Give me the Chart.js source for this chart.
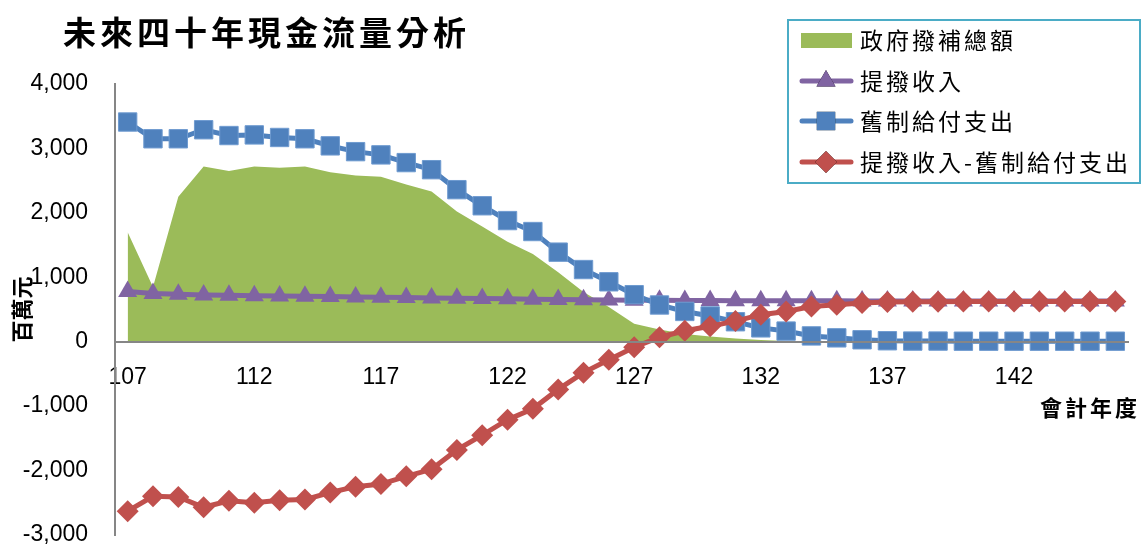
<!DOCTYPE html>
<html><head><meta charset="utf-8">
<script src="https://cdn.jsdelivr.net/npm/chart.js@4"></script>
<style>html,body{margin:0;padding:0;background:#fff}#wrap{width:1148px;height:549px}</style>
</head><body><div id="wrap"><canvas id="c" width="1148" height="549"></canvas></div>
<script>
const chartTitle = '未來四十年現金流量分析';
const xAxisTitle = '會計年度';
const yAxisTitle = '百萬元';
const years = [107,108,109,110,111,112,113,114,115,116,117,118,119,120,121,122,123,124,125,126,127,128,129,130,131,132,133,134,135,136,137,138,139,140,141,142,143,144,145,146];
const seriesNames = ['政府撥補總額','提撥收入','舊制給付支出','提撥收入-舊制給付支出'];
const subsidy = [1700,850,2250,2720,2650,2720,2700,2720,2630,2580,2560,2440,2330,2020,1790,1550,1360,1080,770,540,280,190,120,80,50,25,10,5,0,0,0,0,0,0,0,0,0,0,0,0];
const income = [780,750,735,725,720,715,710,705,700,695,690,685,680,675,670,665,660,655,650,648,645,643,640,638,636,635,635,634,634,633,633,633,632,632,632,632,631,631,631,631];
const payment = [3410,3150,3150,3290,3200,3210,3170,3150,3040,2950,2900,2780,2670,2360,2110,1880,1710,1390,1120,930,730,570,470,400,310,215,165,90,60,30,15,10,10,8,8,8,8,8,8,8];
const netFlow = [-2630,-2400,-2410,-2570,-2470,-2500,-2460,-2450,-2340,-2250,-2210,-2090,-1980,-1680,-1450,-1210,-1040,-740,-480,-280,-85,70,170,240,320,420,470,545,575,600,615,620,622,624,624,624,624,624,624,624];
const yTicks = [-3000,-2000,-1000,0,1000,2000,3000,4000];

const GREEN='#9BBB59', PURPLE='#8064A2', BLUE='#4F81BD', RED='#C0504D';

const extras = {
  id:'extras',
  afterDraw(chart){
    const ctx = chart.ctx;
    ctx.save();
    ctx.fillStyle='#000';
    ctx.textBaseline='middle';
    ctx.textAlign='left';
    ctx.font="bold 33px 'Noto Sans CJK TC'";
    ctx.letterSpacing='4px';
    ctx.fillText(chartTitle, 63, 32);
    ctx.font="bold 22px 'Noto Sans CJK TC'";
    ctx.letterSpacing='3px';
    ctx.fillText(xAxisTitle, 1040, 408);
    ctx.letterSpacing='0px';
    ctx.fillStyle='#fff';
    ctx.fillRect(788,20,352,163);
    ctx.strokeStyle='#4BACC6';
    ctx.lineWidth=2;
    ctx.strokeRect(788,20,352,163);
    const rows=[40,81,121,162];
    chart.data.datasets.forEach((ds,i)=>{
      const y=rows[i];
      if(i===0){
        ctx.fillStyle=GREEN;
        ctx.fillRect(801,33,51,15);
      } else {
        ctx.strokeStyle=ds.borderColor;
        ctx.lineWidth=5;
        ctx.lineCap='round';
        ctx.beginPath();ctx.moveTo(802,y);ctx.lineTo(851,y);ctx.stroke();
        Chart.helpers.drawPoint(ctx,{pointStyle:ds.pointStyle,radius:ds.pointRadius,borderWidth:0,rotation:0},826,y);
        ctx.fillStyle=ds.pointBackgroundColor;
        ctx.fill();
      }
      ctx.fillStyle='#000';
      ctx.font="23px 'Noto Sans CJK TC'";
      ctx.letterSpacing='3px';
      ctx.textBaseline='middle';
      ctx.fillText(ds.label, 860, y);
    });
    ctx.restore();
  }
};

new Chart(document.getElementById('c'), {
  type:'line',
  data:{
    labels: years,
    datasets:[
      {label:seriesNames[0], data:subsidy, fill:'origin', backgroundColor:GREEN, borderColor:GREEN, borderWidth:0, pointRadius:0, order:4, tension:0},
      {label:seriesNames[1], data:income, borderColor:PURPLE, borderWidth:5, pointStyle:'triangle', pointRadius:11, pointBackgroundColor:PURPLE, pointBorderColor:PURPLE, pointBorderWidth:0, order:3},
      {label:seriesNames[2], data:payment, borderColor:BLUE, borderWidth:5, pointStyle:'rect', pointRadius:13, pointBackgroundColor:BLUE, pointBorderColor:'#6f9bd0', pointBorderWidth:1, order:2},
      {label:seriesNames[3], data:netFlow, borderColor:RED, borderWidth:5, pointStyle:'rectRot', pointRadius:11, pointBackgroundColor:RED, pointBorderColor:RED, pointBorderWidth:0, order:1}
    ]
  },
  options:{
    responsive:false, animation:false,
    layout:{padding:{left:8, top:84, right:20, bottom:12}},
    plugins:{legend:{display:false}, title:{display:false}, tooltip:{enabled:false}},
    scales:{
      x:{
        type:'category', offset:true, position:{y:0},
        afterFit:(s)=>{ s.paddingTop = 0; s.paddingBottom = 0; },
        grid:{display:false, drawTicks:false},
        border:{display:true, color:'#868686', width:2, z:1},
        ticks:{autoSkip:false, maxRotation:0, padding:22, color:'#000', font:{family:'Liberation Sans', size:23},
          callback:function(v,i){ return i%5===0 ? this.getLabelForValue(v) : null; }}
      },
      y:{
        min:-3000, max:4000,
        afterBuildTicks:(s)=>{ s.ticks = yTicks.map(v=>({value:v})); },
        afterFit:(s)=>{ s.width = 107; s.paddingBottom = 0; },
        grid:{display:false, drawTicks:false},
        border:{display:true, color:'#868686', width:2},
        ticks:{padding:27, color:'#000', font:{family:'Liberation Sans', size:23},
          callback:(v)=>Number(v).toLocaleString('en-US')},
        title:{display:true, text:yAxisTitle, color:'#000', padding:0, font:{family:'Noto Sans CJK TC', size:22, weight:'bold'}}
      }
    }
  },
  plugins:[extras]
});
</script></body></html>
